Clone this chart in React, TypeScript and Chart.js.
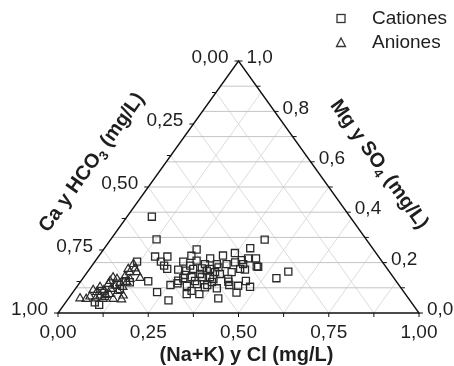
import React, { useEffect, useRef } from "react";
import { Chart, registerables } from "chart.js";

Chart.register(...registerables);

// Ternary values: (Na+K)/Cl fraction and Mg/SO4 fraction
// (Ca/HCO3 = 1 - Na - Mg)
const cationNa = [
  0.069, 0.127, 0.427, 0.258, 0.404, 0.157, 0.191, 0.183, 0.2, 0.215,
  0.117, 0.187, 0.233, 0.281, 0.256, 0.272, 0.536, 0.556, 0.48, 0.454,
  0.415, 0.256, 0.245, 0.272, 0.28, 0.313, 0.343, 0.371, 0.404, 0.418,
  0.44, 0.458, 0.247, 0.271, 0.287, 0.31, 0.334, 0.354, 0.37, 0.39,
  0.432, 0.278, 0.299, 0.327, 0.35, 0.371, 0.404, 0.269, 0.303, 0.327,
  0.358, 0.391, 0.41, 0.445, 0.319, 0.326, 0.354, 0.31, 0.343, 0.328,
  0.354, 0.4, 0.363, 0.356, 0.419, 0.416, 0.316, 0.316, 0.417, 0.365,
  0.457, 0.276, 0.463, 0.098, 0.077, 0.107, 0.125, 0.081, 0.124, 0.138,
  0.096,
];
const cationMg = [
  0.382, 0.292, 0.291, 0.252, 0.257, 0.224, 0.224, 0.204, 0.188, 0.175,
  0.204, 0.126, 0.083, 0.05, 0.111, 0.118, 0.138, 0.164, 0.104, 0.081,
  0.058, 0.227, 0.204, 0.188, 0.208, 0.217, 0.228, 0.238, 0.21, 0.217,
  0.217, 0.185, 0.172, 0.168, 0.175, 0.177, 0.175, 0.181, 0.194, 0.201,
  0.172, 0.138, 0.142, 0.142, 0.142, 0.155, 0.135, 0.128, 0.108, 0.115,
  0.111, 0.098, 0.124, 0.108, 0.075, 0.088, 0.075, 0.194, 0.194, 0.168,
  0.162, 0.162, 0.135, 0.102, 0.111, 0.194, 0.155, 0.127, 0.175, 0.123,
  0.127, 0.151, 0.183, 0.032, 0.088, 0.112, 0.126, 0.042, 0.095, 0.122,
  0.067,
];
const anionNa = [
  0.032, 0.05, 0.056, 0.076, 0.097, 0.066, 0.065, 0.082, 0.082, 0.081,
  0.082, 0.105, 0.125, 0.104, 0.096, 0.112, 0.149, 0.146, 0.113, 0.129,
  0.118, 0.132, 0.125, 0.137, 0.112, 0.107, 0.097, 0.123, 0.082, 0.099,
  0.052, 0.128, 0.158,
];
const anionMg = [
  0.058, 0.056, 0.065, 0.058, 0.056, 0.083, 0.103, 0.091, 0.115, 0.127,
  0.141, 0.075, 0.056, 0.108, 0.135, 0.119, 0.054, 0.069, 0.145, 0.123,
  0.162, 0.135, 0.177, 0.162, 0.194, 0.175, 0.071, 0.087, 0.069, 0.095,
  0.091, 0.103, 0.139,
];

const bottomTickLabels = ["0,00", "0,25", "0,50", "0,75", "1,00"];
const leftTickLabels = ["0,00", "0,25", "0,50", "0,75", "1,00"];
const rightTickLabels = ["0,0", "0,2", "0,4", "0,6", "0,8", "1,0"];
const seriesNames = ["Cationes", "Aniones"];
const bottomTitle = "(Na+K) y Cl (mg/L)";
const leftTitle: [string, boolean][] = [["Ca y HCO", false], ["3", true], [" (mg/L)", false]];
const rightTitle: [string, boolean][] = [["Mg y SO", false], ["4", true], [" (mg/L)", false]];

const toXY = (na: number[], mg: number[]) =>
  na.map((n, i) => ({ x: n + mg[i] / 2, y: mg[i] }));

const FONT = "'Liberation Sans', Arial, sans-serif";
const TEXT = "#1e1e1e";

function drawRich(ctx: CanvasRenderingContext2D, parts: [string, boolean][], size: number) {
  const mainFont = `bold ${size}px ${FONT}`;
  const subFont = `bold ${Math.round(size * 0.65)}px ${FONT}`;
  let total = 0;
  const widths = parts.map(([t, sub]) => {
    ctx.font = sub ? subFont : mainFont;
    const w = ctx.measureText(t).width;
    total += w;
    return w;
  });
  let x = -total / 2;
  parts.forEach(([t, sub], i) => {
    ctx.font = sub ? subFont : mainFont;
    ctx.textAlign = "left";
    ctx.textBaseline = "middle";
    ctx.fillText(t, x, sub ? size * 0.32 : 0);
    x += widths[i];
  });
}

const ternaryPlugin = {
  id: "ternary",
  beforeDatasetsDraw(chart: any) {
    const ctx: CanvasRenderingContext2D = chart.ctx;
    const xs = chart.scales.x;
    const ys = chart.scales.y;
    const P = (n: number, m: number): [number, number] => [
      xs.getPixelForValue(n + m / 2),
      ys.getPixelForValue(m),
    ];
    const line = (a: [number, number], b: [number, number]) => {
      ctx.beginPath();
      ctx.moveTo(a[0], a[1]);
      ctx.lineTo(b[0], b[1]);
      ctx.stroke();
    };
    ctx.save();
    // grid
    ctx.lineWidth = 1;
    ctx.strokeStyle = "#dcdcdc";
    for (let k = 1; k < 8; k++) {
      const v = k * 0.125;
      line(P(v, 0), P(v, 1 - v));
      line(P(1 - v, 0), P(0, 1 - v));
    }
    ctx.strokeStyle = "#c4c4c4";
    for (let k = 1; k < 10; k++) {
      const m = k / 10;
      line(P(0, m), P(1 - m, m));
    }
    // edges
    ctx.strokeStyle = "#111";
    ctx.lineWidth = 1.4;
    ctx.beginPath();
    const a = P(0, 0), b = P(1, 0), c = P(0, 1);
    ctx.moveTo(a[0], a[1]);
    ctx.lineTo(b[0], b[1]);
    ctx.lineTo(c[0], c[1]);
    ctx.closePath();
    ctx.stroke();
    // ticks
    ctx.lineWidth = 1;
    for (let k = 0; k <= 8; k++) {
      const v = k * 0.125;
      const pb = P(v, 0);
      line(pb, [pb[0], pb[1] + 4]);
      const pl = P(0, 1 - v);
      line(pl, [pl[0] - 4, pl[1]]);
    }
    for (let k = 0; k <= 10; k++) {
      const m = k / 10;
      const pr = P(1 - m, m);
      line(pr, [pr[0] + 4, pr[1]]);
    }
    // tick labels
    ctx.fillStyle = TEXT;
    ctx.font = `19px ${FONT}`;
    ctx.textBaseline = "middle";
    ctx.textAlign = "center";
    bottomTickLabels.forEach((t, i) => {
      const p = P(i * 0.25, 0);
      ctx.fillText(t, p[0], p[1] + 20);
    });
    ctx.textAlign = "right";
    leftTickLabels.forEach((t, i) => {
      const p = P(0, 1 - i * 0.25);
      ctx.fillText(t, p[0] - 10, p[1] - 3);
    });
    ctx.textAlign = "left";
    rightTickLabels.forEach((t, i) => {
      const m = i * 0.2;
      const p = P(1 - m, m);
      ctx.fillText(t, p[0] + 8, p[1] - 3);
    });
    // bottom title
    ctx.font = `bold 20px ${FONT}`;
    ctx.textAlign = "center";
    const pm = P(0.5, 0);
    ctx.fillText(bottomTitle, pm[0] + 8, pm[1] + 42);
    // left title
    const angL = Math.atan2(c[1] - a[1], c[0] - a[0]);
    const lmid = P(0, 0.5);
    const dL = [Math.cos(angL), Math.sin(angL)];
    const nL = [dL[1], -dL[0]];
    ctx.save();
    ctx.translate(lmid[0] + nL[0] * 60 - dL[0] * 13, lmid[1] + nL[1] * 60 - dL[1] * 13);
    ctx.rotate(angL);
    drawRich(ctx, leftTitle, 20);
    ctx.restore();
    // right title
    const angR = Math.atan2(b[1] - c[1], b[0] - c[0]);
    const rmid = P(0.5, 0.5);
    const dR = [Math.cos(angR), Math.sin(angR)];
    const nR = [dR[1], -dR[0]];
    ctx.save();
    ctx.translate(rmid[0] + nR[0] * 54 + dR[0] * 11, rmid[1] + nR[1] * 54 + dR[1] * 11);
    ctx.rotate(angR);
    drawRich(ctx, rightTitle, 20);
    ctx.restore();
    // legend
    ctx.strokeStyle = "#333";
    ctx.lineWidth = 1.3;
    ctx.strokeRect(337, 14.5, 8, 8);
    ctx.beginPath();
    ctx.moveTo(341, 38);
    ctx.lineTo(345.5, 46.5);
    ctx.lineTo(336.5, 46.5);
    ctx.closePath();
    ctx.stroke();
    ctx.fillStyle = TEXT;
    ctx.font = `19px ${FONT}`;
    ctx.textAlign = "left";
    ctx.fillText(seriesNames[0], 372, 18.5);
    ctx.fillText(seriesNames[1], 372, 43);
    ctx.restore();
  },
};

export default function App() {
  const ref = useRef<HTMLCanvasElement | null>(null);
  useEffect(() => {
    if (!ref.current) return;
    const chart = new Chart(ref.current, {
      type: "scatter",
      data: {
        datasets: [
          {
            label: seriesNames[0],
            data: toXY(cationNa, cationMg),
            pointStyle: "rect",
            pointRadius: 5,
            borderColor: "#2a2a2a",
            backgroundColor: "rgba(255,255,255,0)",
            borderWidth: 1.3,
          },
          {
            label: seriesNames[1],
            data: toXY(anionNa, anionMg),
            pointStyle: "triangle",
            pointRadius: 4.8,
            borderColor: "#2a2a2a",
            backgroundColor: "rgba(255,255,255,0)",
            borderWidth: 1.2,
          },
        ],
      },
      options: {
        animation: false,
        responsive: false,
        devicePixelRatio: 1,
        layout: { padding: { left: 58, right: 35, top: 61, bottom: 53 } },
        scales: {
          x: { type: "linear", min: 0, max: 1, display: false },
          y: { type: "linear", min: 0, max: 1, display: false },
        },
        plugins: { legend: { display: false }, tooltip: { enabled: false } },
        elements: { point: { hoverRadius: 5 } },
        clip: false as any,
      },
      plugins: [ternaryPlugin],
    });
    return () => chart.destroy();
  }, []);
  return (
    <div style={{ position: "absolute", left: 0, top: 0, width: 454, height: 366, background: "#fff" }}>
      <canvas ref={ref} width={454} height={366} style={{ display: "block" }} />
    </div>
  );
}
